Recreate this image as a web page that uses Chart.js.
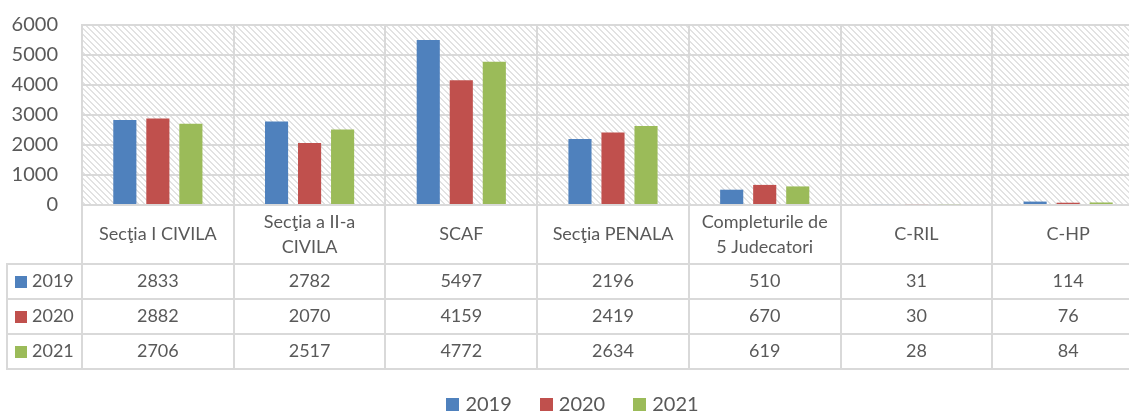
<!DOCTYPE html>
<html>
<head>
<meta charset="utf-8">
<script src="https://cdn.jsdelivr.net/npm/chart.js@4.4.1/dist/chart.umd.min.js"></script>
<style>
  html, body { margin: 0; padding: 0; background: #fff; overflow: hidden; }
  #wrap { width: 1145px; height: 412px; }
</style>
</head>
<body>
<div id="wrap"><canvas id="chart" width="1145" height="412"></canvas></div>
<script>
// --- data ---
const categories = [
  'Secţia I CIVILA',
  ['Secţia a II-a', 'CIVILA'],
  'SCAF',
  'Secţia PENALA',
  ['Completurile de', '5 Judecatori'],
  'C-RIL',
  'C-HP'
];
const years = ['2019', '2020', '2021'];
const values2019 = [2833, 2782, 5497, 2196, 510, 31, 114];
const values2020 = [2882, 2070, 4159, 2419, 670, 30, 76];
const values2021 = [2706, 2517, 4772, 2634, 619, 28, 84];
const yMin = 0, yMax = 6000, yStep = 1000;

const colors = ['#4F81BD', '#C0504D', '#9BBB59'];
const seriesValues = [values2019, values2020, values2021];
const textColor = '#595959';
const lineColor = '#d9d9d9';
const fontName = 'Lato, "Open Sans", sans-serif';

// hatched background tile (light downward diagonal)
function makeHatch(ctx) {
  const tile = document.createElement('canvas');
  tile.width = 6; tile.height = 6;
  const t = tile.getContext('2d');
  t.fillStyle = '#ffffff';
  t.fillRect(0, 0, 6, 6);
  t.fillStyle = '#e2e2e2';
  for (let y = 0; y < 6; y++) {
    for (let x = 0; x < 6; x++) {
      const d = ((x - y) % 6 + 6) % 6;
      if (d === 0 || d === 1) t.fillRect(x, y, 1, 1);
    }
  }
  return ctx.createPattern(tile, 'repeat');
}

const plotTop = 25;
const headerH = 59;
const rowH = 35;
const tableLeft = 7;

const dataTablePlugin = {
  id: 'dataTable',
  beforeDraw(chart) {
    const { ctx, chartArea: a } = chart;
    ctx.save();
    ctx.fillStyle = makeHatch(ctx);
    ctx.fillRect(a.left, a.top, a.right - a.left, a.bottom - a.top);
    ctx.restore();
  },
  afterDraw(chart) {
    const { ctx, chartArea: a } = chart;
    const x = chart.scales.x;
    const n = categories.length;
    const cw = (x.right - x.left) / n;
    const bottom = a.bottom + headerH + rowH * years.length;

    ctx.save();
    ctx.strokeStyle = lineColor;
    ctx.lineWidth = 2;
    // vertical lines through the table
    for (let i = 0; i <= n; i++) {
      const px = Math.round(x.left + i * cw);
      ctx.beginPath();
      ctx.moveTo(px, a.bottom);
      ctx.lineTo(px, bottom);
      ctx.stroke();
    }
    // left edge of the legend column
    ctx.beginPath();
    ctx.moveTo(tableLeft, a.bottom + headerH);
    ctx.lineTo(tableLeft, bottom);
    ctx.stroke();
    // horizontal row lines
    for (let r = 0; r <= years.length; r++) {
      const py = a.bottom + headerH + r * rowH;
      ctx.beginPath();
      ctx.moveTo(tableLeft - 1, py);
      ctx.lineTo(x.right, py);
      ctx.stroke();
    }

    ctx.fillStyle = textColor;
    ctx.textAlign = 'center';
    ctx.textBaseline = 'middle';
    ctx.font = '18px ' + fontName;
    // category header
    const headMid = a.bottom + headerH / 2;
    categories.forEach((c, i) => {
      const cx = x.getPixelForValue(i);
      const lines = Array.isArray(c) ? c : [c];
      const lh = 25;
      lines.forEach((ln, k) => {
        ctx.fillText(ln, cx, headMid + (k - (lines.length - 1) / 2) * lh);
      });
    });
    // value rows
    years.forEach((yr, r) => {
      const cy = a.bottom + headerH + r * rowH + rowH / 2;
      ctx.fillStyle = colors[r];
      ctx.fillRect(15, Math.round(cy - 6), 12, 12);
      ctx.fillStyle = textColor;
      ctx.textAlign = 'left';
      ctx.fillText(yr, 32, cy);
      ctx.textAlign = 'center';
      seriesValues[r].forEach((v, i) => {
        ctx.fillText(String(v), x.getPixelForValue(i), cy);
      });
    });

    // legend
    ctx.font = '20px ' + fontName;
    const box = 13, gapText = 6, gapItem = 28;
    const widths = years.map(y => box + gapText + ctx.measureText(y).width);
    const total = widths.reduce((s, w) => s + w, 0) + gapItem * (years.length - 1);
    let lx = chart.width / 2 - total / 2;
    const ly = 404;
    years.forEach((yr, i) => {
      ctx.fillStyle = colors[i];
      ctx.fillRect(Math.round(lx), ly - 6, box, box);
      ctx.fillStyle = textColor;
      ctx.textAlign = 'left';
      ctx.fillText(yr, lx + box + gapText, ly + 1);
      lx += widths[i] + gapItem;
    });
    ctx.restore();
  }
};

new Chart(document.getElementById('chart'), {
  type: 'bar',
  data: {
    labels: categories,
    datasets: years.map((y, i) => ({
      label: y,
      data: seriesValues[i],
      backgroundColor: colors[i],
      borderWidth: 0,
      categoryPercentage: 0.653,
      barPercentage: 0.70
    }))
  },
  options: {
    responsive: false,
    animation: false,
    devicePixelRatio: 1,
    layout: { padding: { top: 0, right: 1, bottom: 43, left: 0 } },
    plugins: {
      legend: { display: false },
      tooltip: { enabled: false }
    },
    scales: {
      x: {
        grid: { color: lineColor, lineWidth: 2, drawTicks: false, offset: true },
        border: { color: lineColor, width: 2 },
        ticks: { display: false },
        afterFit(scale) { scale.height = headerH + rowH * years.length; }
      },
      y: {
        min: yMin,
        max: yMax,
        ticks: {
          stepSize: yStep,
          color: textColor,
          padding: 24,
          font: { family: fontName, size: 20 },
          callback: v => String(v)
        },
        grid: { color: lineColor, lineWidth: 2, drawTicks: false },
        border: { color: lineColor, width: 2 },
        afterFit(scale) {
          scale.width = 82;
          scale.paddingTop = plotTop;
        }
      }
    }
  },
  plugins: [dataTablePlugin]
});
</script>
</body>
</html>
